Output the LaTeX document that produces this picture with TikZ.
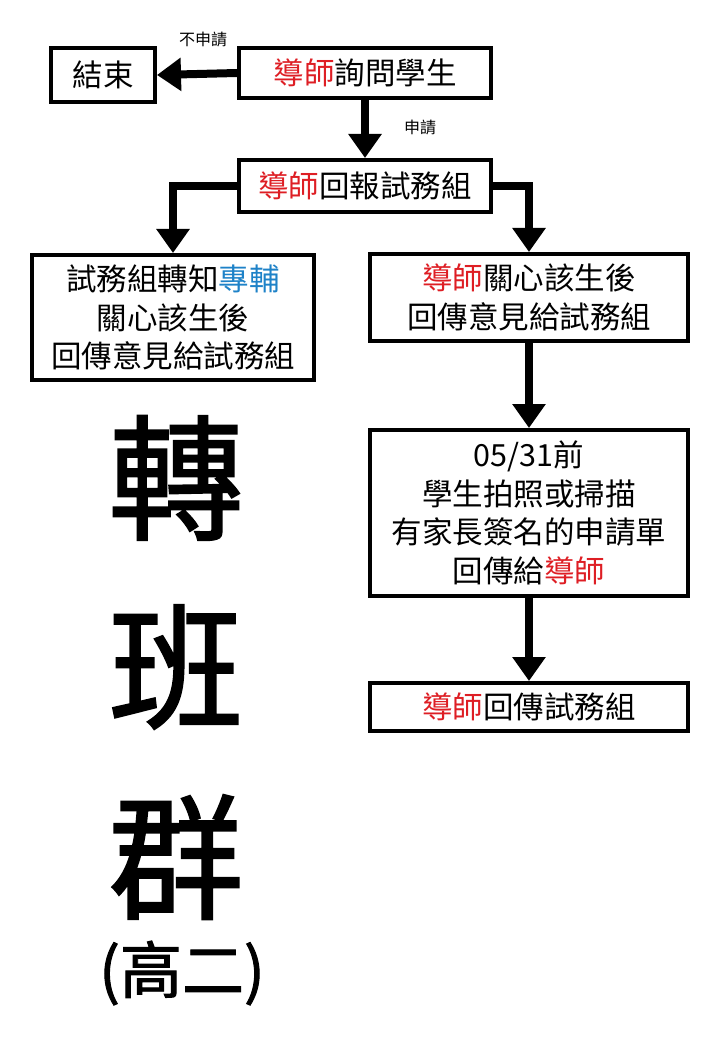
\documentclass[tikz,border=0pt]{standalone}
\usepackage{fontspec}
\setmainfont{Noto Sans CJK TC}
\newfontfamily\bigcjk{Noto Sans CJK TC}[FakeBold=1.5]
\usetikzlibrary{arrows.meta}
\definecolor{tred}{RGB}{222,30,36}
\definecolor{tblue}{RGB}{30,130,200}
\tikzset{
  box/.style={draw, line width=4pt, fill=white, align=center, inner sep=0pt,
    font=\fontsize{30.5}{38.5}\selectfont},
  flow/.style={line width=8pt, -{Triangle[width=32pt,length=24pt]}},
  lbl/.style={font=\fontsize{16}{18}\selectfont},
  big/.style={font=\bigcjk\fontsize{135}{140}\selectfont}
}
\begin{document}
\begin{tikzpicture}[x=1pt,y=1pt]
\useasboundingbox[fill=white] (0,0) rectangle (720,-1040);
\node[box, minimum width=104pt, minimum height=54pt] (end) at (103,-75) {結束};
\node[box, minimum width=252pt, minimum height=50pt] (ask) at (365,-73) {\textcolor{tred}{導師}詢問學生};
\node[box, minimum width=252pt, minimum height=52pt] (rep) at (365,-186) {\textcolor{tred}{導師}回報試務組};
\node[box, minimum width=282pt, minimum height=125pt] (left) at (173,-317.5) {試務組轉知\textcolor{tblue}{專輔}\\關心該生後\\回傳意見給試務組};
\node[box, minimum width=318pt, minimum height=87pt] (r1) at (529,-297.5) {\textcolor{tred}{導師}關心該生後\\回傳意見給試務組};
\node[box, minimum width=318pt, minimum height=166pt] (r2) at (529,-513) {05/31前\\學生拍照或掃描\\有家長簽名的申請單\\回傳給\textcolor{tred}{導師}};
\node[box, minimum width=318pt, minimum height=48pt] (r3) at (529,-707) {\textcolor{tred}{導師}回傳試務組};

\draw[flow] (ask.west) -- (end.east);
\draw[flow] (ask.south) -- (rep.north);
\draw[flow] (rep.west) -| (left.north);
\draw[flow] (rep.east) -| (r1.north);
\draw[flow] (r1.south) -- (r2.north);
\draw[flow] (r2.south) -- (r3.north);

\node[lbl] (no) at (203,-40) {不申請};
\node[lbl] (yes) at (420,-128) {申請};

\node[big] (c1) at (176,-478) {轉};
\node[big] (c2) at (176,-667) {班};
\node[big] (c3) at (176,-857) {群};
\node[font=\bigcjk\fontsize{62}{64}\selectfont] (c4) at (182,-973) {(高二)};
\end{tikzpicture}
\end{document}
